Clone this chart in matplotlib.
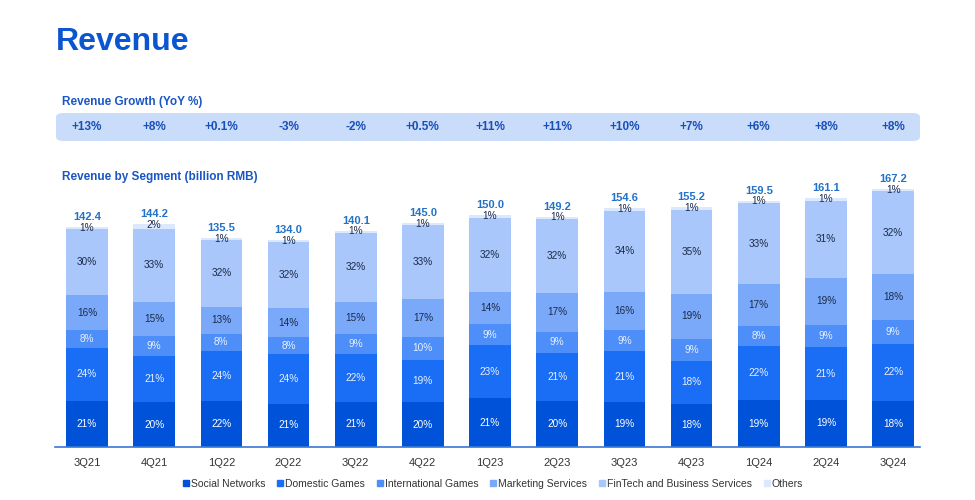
import numpy as np
import matplotlib.pyplot as plt
from matplotlib.patches import FancyBboxPatch
from matplotlib.lines import Line2D

plt.rcParams['font.family'] = ['Liberation Sans', 'DejaVu Sans']

quarters = ["3Q21", "4Q21", "1Q22", "2Q22", "3Q22", "4Q22", "1Q23",
            "2Q23", "3Q23", "4Q23", "1Q24", "2Q24", "3Q24"]
totals = [142.4, 144.2, 135.5, 134.0, 140.1, 145.0, 150.0,
          149.2, 154.6, 155.2, 159.5, 161.1, 167.2]
growth = ["+13%", "+8%", "+0.1%", "-3%", "-2%", "+0.5%", "+11%",
          "+11%", "+10%", "+7%", "+6%", "+8%", "+8%"]

segments = ["Social Networks", "Domestic Games", "International Games",
            "Marketing Services", "FinTech and Business Services", "Others"]
social = [21, 20, 22, 21, 21, 20, 21, 20, 19, 18, 19, 19, 18]
domestic = [24, 21, 24, 24, 22, 19, 23, 21, 21, 18, 22, 21, 22]
intl = [8, 9, 8, 8, 9, 10, 9, 9, 9, 9, 8, 9, 9]
marketing = [16, 15, 13, 14, 15, 17, 14, 17, 16, 19, 17, 19, 18]
fintech = [30, 33, 32, 32, 32, 33, 32, 32, 34, 35, 33, 31, 32]
others = [1, 2, 1, 1, 1, 1, 1, 1, 1, 1, 1, 1, 1]

colors = ["#0052d9", "#1a6ef5", "#4d8ef8", "#7aa9fa", "#a9c7fb", "#dce8fd"]
label_colors = ["white", "#e8f0ff", "#e8f0ff", "#1b2a48", "#1b2a48", "#1b2a48"]

W, H = 975, 500
fig = plt.figure(figsize=(W / 100, H / 100), dpi=100)

# growth band (drawn first so it sits behind the text)
band = FancyBboxPatch((56 / W, 1 - 141 / H), 864 / W, 28 / H,
                      boxstyle="round,pad=0,rounding_size=0.008",
                      transform=fig.transFigure, facecolor="#c9dcfa",
                      edgecolor="none")
fig.patches.append(band)

ax = fig.add_axes([55 / W, 53 / H, 865 / W, 278 / H])

x = np.arange(len(quarters))
shares = np.array([social, domestic, intl, marketing, fintech, others], dtype=float)
tot = np.array(totals)
sums = shares.sum(axis=0)
bottom = np.zeros(len(quarters))
for k in range(len(segments)):
    h = tot * shares[k] / sums
    ax.bar(x, h, 0.62, bottom=bottom, color=colors[k], label=segments[k])
    for i in range(len(quarters)):
        if k < 5:
            ax.text(x[i], bottom[i] + h[i] / 2, f"{int(shares[k][i])}%", ha="center",
                    va="center", fontsize=7.2, color=label_colors[k])
        else:
            ax.text(x[i], bottom[i] + h[i] - 0.5, f"{int(shares[k][i])}%", ha="center",
                    va="center", fontsize=7.2, color=label_colors[k])
    bottom += h

for i in range(len(quarters)):
    ax.text(x[i], tot[i] + 6.5, f"{tot[i]:.1f}", ha="center", va="center",
            fontsize=8, fontweight="bold", color="#2272c8")

ax.set_xlim(-0.476, 12.40)
ax.set_ylim(0, 180)
ax.set_xticks(x)
ax.set_xticklabels(quarters, fontsize=8, color="#333333")
ax.tick_params(axis="x", length=0, pad=8)
ax.set_yticks([])
for s in ["top", "right", "left"]:
    ax.spines[s].set_visible(False)
ax.spines["bottom"].set_color("#3a78d6")
ax.spines["bottom"].set_linewidth(1.2)

# titles
fig.text(56 / W, 1 - 42 / H, "Revenue", fontsize=23, fontweight="bold",
         color="#0a55d0", va="center", ha="left")
fig.text(62 / W, 1 - 102 / H, "Revenue Growth (YoY %)", fontsize=8.5,
         fontweight="bold", color="#1a56c4", va="center", ha="left")
fig.text(62 / W, 1 - 177 / H, "Revenue by Segment (billion RMB)", fontsize=8.5,
         fontweight="bold", color="#1a56c4", va="center", ha="left")

# growth values, lined up with the bars
x0, x1 = ax.get_xlim()
for i, g in enumerate(growth):
    fx = (55 + 865 * (x[i] - x0) / (x1 - x0)) / W
    fig.text(fx, 1 - 127 / H, g, ha="center", va="center",
             fontsize=8.5, fontweight="bold", color="#1a4fb8")

handles = [Line2D([], [], marker="s", linestyle="none", markersize=4.5,
                  markerfacecolor=c, markeredgecolor=c) for c in colors]
fig.legend(handles, segments, loc="center", bbox_to_anchor=(492 / W, 1 - 484 / H),
           ncol=6, frameon=False, fontsize=7.5, handletextpad=0.0,
           handlelength=1.0, columnspacing=0.9, labelcolor="#333333")

fig.savefig("out.png", dpi=100)
